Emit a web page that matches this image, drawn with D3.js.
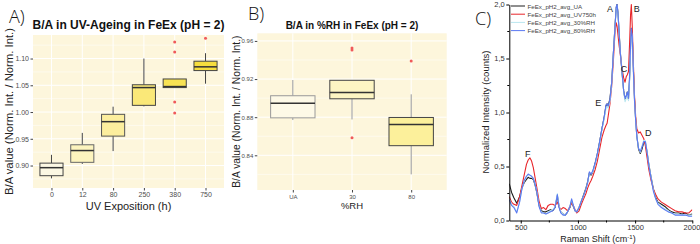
<!DOCTYPE html>
<html><head><meta charset="utf-8">
<script src="https://cdn.jsdelivr.net/npm/d3@7"></script>
<style>body{margin:0;background:#fff}svg{display:block}text{font-family:"Liberation Sans",Arial,sans-serif}</style>
</head><body><svg id="c" width="700" height="244"></svg>
<script>
// ---------- Panel A data ----------
const uvCategories = ["0","12","80","250","380","750"];
const uvLow    = [0.876, 0.903, 0.927, 1.0105, 1.0457, 1.053];
const uvQ1     = [0.881, 0.906, 0.955, 1.0125, 1.0457, 1.0775];
const uvMedian = [0.896, 0.928, 0.982, 1.0457, 1.0476, 1.0845];
const uvQ3     = [0.9045, 0.9388, 0.9957, 1.051, 1.0618, 1.095];
const uvHigh   = [0.920, 0.961, 1.010, 1.100, 1.0618, 1.110];
const uvOutlierCats   = ["380","380","380","380","750"];
const uvOutlierValues = [1.1307, 1.112, 1.0187, 0.998, 1.138];
const uvFills = ["#fcf8e4","#fdf4be","#fcee9e","#fae878","#f8e253","#f5dd3e"];
const uvYTicks = [0.90, 0.95, 1.00, 1.05, 1.10];
const uvYMinor = [0.875, 0.925, 0.975, 1.025, 1.075, 1.125];

// ---------- Panel B data ----------
const rhCategories = ["UA","30","80"];
const rhLow    = [0.877, 0.8776, 0.820];
const rhQ1     = [0.8793, 0.8993, 0.8501];
const rhMedian = [0.8945, 0.906, 0.8723];
const rhQ3     = [0.9025, 0.9187, 0.8797];
const rhHigh   = [0.919, 0.9187, 0.904];
const rhOutlierCats   = ["30","30","30","80"];
const rhOutlierValues = [0.9525, 0.9505, 0.8585, 0.9389];
const rhFills = ["#fdf9e7","#fdf5c3","#fcf09b"];
const rhYTicks = [0.84, 0.88, 0.92, 0.96];
const rhYMinor = [0.82, 0.86, 0.90, 0.94];

// ---------- Panel C data ----------
const ramanShift = [400,420,440,465,490,510,530,550,565,580,595,610,625,640,660,680,700,720,740,760,780,800,820,835,850,870,890,910,930,945,960,975,990,1010,1030,1050,1070,1085,1100,1115,1130,1150,1170,1190,1210,1230,1245,1255,1265,1280,1295,1310,1325,1335,1342,1350,1360,1370,1385,1400,1412,1422,1432,1442,1452,1460,1467,1475,1485,1495,1505,1515,1530,1545,1560,1575,1590,1605,1620,1640,1660,1680,1700,1730,1760,1790,1820,1850,1880,1910,1940,1970,2000];
const specUA    = [0.34,0.26,0.21,0.16,0.22,0.30,0.35,0.38,0.40,0.39,0.39,0.38,0.33,0.26,0.14,0.09,0.08,0.08,0.09,0.10,0.09,0.12,0.23,0.13,0.08,0.06,0.05,0.08,0.12,0.18,0.13,0.09,0.08,0.12,0.18,0.24,0.30,0.36,0.44,0.42,0.45,0.53,0.62,0.73,0.85,0.96,1.06,1.08,1.06,1.13,1.28,1.55,1.82,1.97,2.00,1.93,1.75,1.57,1.38,1.20,1.12,1.15,1.19,1.12,1.32,1.60,1.78,1.72,1.40,1.12,0.93,0.78,0.66,0.62,0.66,0.72,0.72,0.63,0.52,0.40,0.29,0.21,0.17,0.15,0.13,0.10,0.08,0.07,0.07,0.06,0.07,0.05,0.06];
const specUV750 = [0.22,0.17,0.15,0.14,0.22,0.32,0.42,0.52,0.56,0.58,0.55,0.49,0.40,0.31,0.18,0.11,0.12,0.10,0.14,0.15,0.15,0.14,0.17,0.13,0.10,0.12,0.11,0.09,0.13,0.16,0.14,0.10,0.07,0.09,0.15,0.20,0.25,0.30,0.34,0.37,0.41,0.47,0.55,0.66,0.77,0.84,0.88,0.90,0.97,1.08,1.24,1.48,1.76,1.83,1.80,1.72,1.62,1.54,1.41,1.32,1.28,1.33,1.35,1.38,1.65,1.90,2.00,1.80,1.45,1.15,0.96,0.85,0.81,0.82,0.79,0.76,0.69,0.58,0.47,0.37,0.29,0.24,0.20,0.17,0.15,0.13,0.11,0.09,0.08,0.08,0.07,0.07,0.10];
const spec30RH  = [0.20,0.15,0.13,0.08,0.17,0.29,0.36,0.41,0.42,0.42,0.41,0.39,0.34,0.27,0.14,0.08,0.07,0.06,0.08,0.09,0.10,0.13,0.25,0.14,0.08,0.06,0.05,0.08,0.13,0.19,0.14,0.09,0.08,0.12,0.18,0.23,0.29,0.35,0.44,0.43,0.45,0.52,0.61,0.72,0.84,0.94,1.03,1.06,1.04,1.10,1.26,1.54,1.80,1.96,1.99,1.92,1.74,1.56,1.38,1.19,1.10,1.13,1.18,1.11,1.30,1.55,1.75,1.70,1.38,1.10,0.92,0.78,0.67,0.63,0.69,0.74,0.74,0.64,0.52,0.40,0.28,0.20,0.16,0.13,0.11,0.09,0.07,0.06,0.06,0.05,0.05,0.05,0.05];
const spec80RH  = [0.19,0.14,0.12,0.07,0.17,0.29,0.37,0.41,0.43,0.42,0.41,0.39,0.34,0.27,0.13,0.07,0.07,0.06,0.07,0.08,0.09,0.12,0.24,0.12,0.07,0.05,0.05,0.08,0.13,0.20,0.14,0.09,0.08,0.12,0.18,0.23,0.29,0.35,0.45,0.43,0.46,0.53,0.62,0.73,0.85,0.96,1.07,1.08,1.06,1.12,1.27,1.55,1.80,1.98,2.00,1.92,1.74,1.56,1.38,1.20,1.13,1.15,1.19,1.13,1.35,1.62,1.78,1.70,1.38,1.10,0.92,0.78,0.67,0.64,0.68,0.73,0.73,0.63,0.51,0.39,0.27,0.20,0.15,0.12,0.10,0.08,0.07,0.05,0.05,0.05,0.05,0.04,0.04];
const seriesNames  = ["FeEx_pH2_avg_UA","FeEx_pH2_avg_UV750h","FeEx_pH2_avg_30%RH","FeEx_pH2_avg_80%RH"];
const seriesColors = ["#1e1e1e","#e8262b","#b9e6ef","#5b79f2"];
const peakLabels = ["A","B","C","D","E","F"];
const peakX = [1280, 1514, 1403, 1615, 1178, 561];
const peakY = [1.96, 1.96, 1.40, 0.81, 1.085, 0.62];
const cXTicks = [500,1000,1500,2000];
const cXMinor = [750,1250,1750];
const cYTicks = [0,0.5,1.0,1.5,2.0];
const cYMinor = [0.25,0.75,1.25,1.75];

const svg = d3.select("#c");
const fmtComma = d => d3.format(".1f")(d).replace(".", ",");

function boxPanel(opt){
  const g = svg.append("g");
  const {x0,x1,y0,y1} = opt.area;
  const x = d3.scalePoint().domain(opt.cats).range([x0,x1]).padding(0.6);
  const y = d3.scaleLinear().domain(opt.ydom).range([y1,y0]);
  const bw = x.step()*0.75;
  g.append("rect").attr("x",x0).attr("y",y0).attr("width",x1-x0).attr("height",y1-y0).attr("fill","#fdf6dc");
  g.selectAll(".mn").data(opt.minor).join("line").attr("x1",x0).attr("x2",x1)
    .attr("y1",d=>y(d)).attr("y2",d=>y(d)).attr("stroke","#fff").attr("stroke-width",0.5);
  g.selectAll(".mj").data(opt.ticks).join("line").attr("x1",x0).attr("x2",x1)
    .attr("y1",d=>y(d)).attr("y2",d=>y(d)).attr("stroke","#fff").attr("stroke-width",1);
  g.selectAll(".vx").data(opt.cats).join("line").attr("y1",y0).attr("y2",y1)
    .attr("x1",d=>x(d)).attr("x2",d=>x(d)).attr("stroke","#fff").attr("stroke-width",1);
  const ya = g.append("g").attr("transform",`translate(${x0},0)`)
    .call(d3.axisLeft(y).tickValues(opt.ticks).tickFormat(d3.format(".2f")).tickSize(2.5).tickPadding(1.5));
  const xa = g.append("g").attr("transform",`translate(0,${y1})`)
    .call(d3.axisBottom(x).tickSize(2.5).tickPadding(2));
  [ya,xa].forEach(a=>{a.select(".domain").remove();a.selectAll("line").attr("stroke","#444");
    a.selectAll("text").attr("fill","#4d4d4d").style("font-size",opt.tickSize+"px");});
  opt.cats.forEach((c,i)=>{
    const cx = x(c);
    g.append("line").attr("x1",cx).attr("x2",cx).attr("y1",y(opt.high[i])).attr("y2",y(opt.q3[i]))
      .attr("stroke",opt.whisk[i]).attr("stroke-width",1);
    g.append("line").attr("x1",cx).attr("x2",cx).attr("y1",y(opt.q1[i])).attr("y2",y(opt.low[i]))
      .attr("stroke",opt.whisk[i]).attr("stroke-width",1);
    g.append("rect").attr("x",cx-bw/2).attr("width",bw).attr("y",y(opt.q3[i]))
      .attr("height",y(opt.q1[i])-y(opt.q3[i])).attr("fill",opt.fills[i])
      .attr("stroke",opt.boxStroke[i]).attr("stroke-width",1);
    g.append("line").attr("x1",cx-bw/2).attr("x2",cx+bw/2).attr("y1",y(opt.med[i])).attr("y2",y(opt.med[i]))
      .attr("stroke","#333").attr("stroke-width",1.5);
  });
  g.selectAll(".out").data(opt.outV).join("circle")
    .attr("cx",(d,i)=>x(opt.outC[i])).attr("cy",d=>y(d)).attr("r",1.5).attr("fill","#f05a5a");
  g.append("text").attr("x",(x0+x1)/2).attr("y",opt.titleY).attr("text-anchor","middle")
    .style("font-weight","bold").style("font-size",opt.titleSize+"px").attr("fill","#111").text(opt.title);
  g.append("text").attr("x",(x0+x1)/2).attr("y",opt.xtY).attr("text-anchor","middle")
    .style("font-size",opt.xtSize+"px").attr("fill","#222").text(opt.xtitle);
  g.append("text").attr("transform",`translate(${opt.ytX},${(y0+y1)/2}) rotate(-90)`).attr("text-anchor","middle")
    .style("font-size",opt.ytSize+"px").attr("fill","#222").text("B/A value (Norm. Int. / Norm. Int.)");
}

boxPanel({area:{x0:33,x1:224,y0:35,y1:188}, cats:uvCategories, ydom:[0.858,1.144],
  ticks:uvYTicks, minor:uvYMinor, low:uvLow,q1:uvQ1,med:uvMedian,q3:uvQ3,high:uvHigh,
  outC:uvOutlierCats,outV:uvOutlierValues, fills:uvFills,
  whisk:["#444","#444","#444","#444","#444","#444"], boxStroke:["#444","#666","#555","#444","#444","#444"],
  tickSize:7, title:"B/A in UV-Ageing in FeEx (pH = 2)", titleY:29, titleSize:12,
  xtitle:"UV Exposition (h)", xtY:210, xtSize:11, ytX:13, ytSize:11.3});

boxPanel({area:{x0:257.3,x1:446.7,y0:33.3,y1:190}, cats:rhCategories, ydom:[0.8036,0.968],
  ticks:rhYTicks, minor:rhYMinor, low:rhLow,q1:rhQ1,med:rhMedian,q3:rhQ3,high:rhHigh,
  outC:rhOutlierCats,outV:rhOutlierValues, fills:rhFills,
  whisk:["#999","#999","#999"], boxStroke:["#999","#444","#444"],
  tickSize:6, title:"B/A in %RH in FeEx (pH = 2)", titleY:28.5, titleSize:10,
  xtitle:"%RH", xtY:209, xtSize:9.5, ytX:240, ytSize:10.3});

[["A)",9,23],["B)",248,20],["C)",475,25]].forEach(t=>{
  svg.append("text").attr("x",t[1]).attr("y",t[2]).style("font-family","'Open Sans',sans-serif")
    .style("font-weight","300").style("font-size","18px").attr("fill","#111").text(t[0]);
});

(function(){
  const g = svg.append("g");
  const x = d3.scaleLinear().domain([400,2000]).range([509.3,692.3]);
  const y = d3.scaleLinear().domain([0,2]).range([220.5,4.5]);
  g.append("clipPath").attr("id","cc").append("rect").attr("x",509.3).attr("y",3.5).attr("width",183).attr("height",217);
  const line = d3.line().x((d,i)=>x(ramanShift[i])).y(d=>y(d));
  const all = [specUA, specUV750, spec30RH, spec80RH];
  all.forEach((s,k)=>{
    g.append("path").attr("d",line(s)).attr("fill","none").attr("stroke",seriesColors[k])
      .attr("stroke-width",1.1).attr("stroke-linejoin","round").attr("clip-path","url(#cc)");
  });
  const xa = g.append("g").attr("transform","translate(0,220.5)")
    .call(d3.axisBottom(x).tickValues(cXTicks).tickFormat(d3.format("d")).tickSize(3).tickSizeOuter(0).tickPadding(1.5));
  xa.selectAll(".mt").data(cXMinor).join("line").attr("x1",d=>x(d)).attr("x2",d=>x(d)).attr("y1",0).attr("y2",2).attr("stroke","#000");
  const ya = g.append("g").attr("transform","translate(509.3,0)")
    .call(d3.axisLeft(y).tickValues(cYTicks).tickFormat(fmtComma).tickSize(3).tickSizeOuter(0).tickPadding(1.5));
  ya.selectAll(".mt").data(cYMinor).join("line").attr("y1",d=>y(d)).attr("y2",d=>y(d)).attr("x1",0).attr("x2",-2).attr("stroke","#000");
  [xa,ya].forEach(a=>{a.select(".domain").attr("stroke","#000");a.selectAll("text").attr("fill","#333").style("font-size","7.5px");});
  xa.selectAll(".tick text").filter(d=>d===2000).attr("text-anchor","end").attr("dx","7.5");
  g.selectAll(".pk").data(peakLabels).join("text").attr("x",(d,i)=>x(peakX[i])).attr("y",(d,i)=>y(peakY[i]))
    .attr("text-anchor","middle").attr("dominant-baseline","central").style("font-size","9px").attr("fill","#222").text(d=>d);
  seriesNames.forEach((n,k)=>{
    const ly = 6 + k*8.2;
    g.append("line").attr("x1",511).attr("x2",525).attr("y1",ly).attr("y2",ly).attr("stroke",seriesColors[k]).attr("stroke-width",1);
    g.append("text").attr("x",527.5).attr("y",ly).attr("dominant-baseline","central")
      .style("font-size","6.2px").attr("fill","#444").text(n);
  });
  g.append("text").attr("x",598).attr("y",242).attr("text-anchor","middle").style("font-size","9px").attr("fill","#222")
    .html('Raman Shift (cm<tspan dy="-3" style="font-size:6px">-1</tspan><tspan dy="3">)</tspan>');
  g.append("text").attr("transform","translate(489,112) rotate(-90)").attr("text-anchor","middle")
    .style("font-size","9.5px").attr("fill","#222").text("Normalized Intensity (counts)");
})();
</script></body></html>
